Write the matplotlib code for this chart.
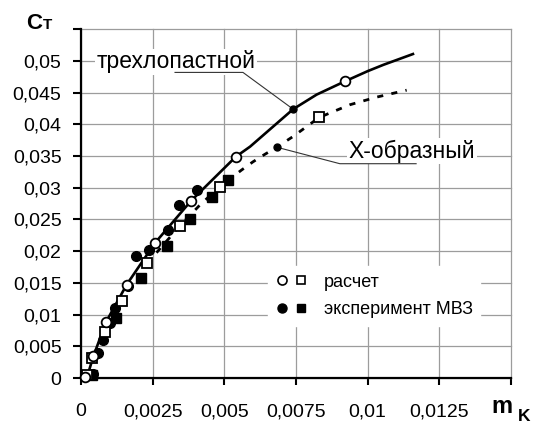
import matplotlib
matplotlib.use('Agg')
import matplotlib.pyplot as plt
from matplotlib.lines import Line2D
from matplotlib.legend_handler import HandlerTuple

plt.rcParams['font.family'] = ['Liberation Sans', 'DejaVu Sans']

# Calculated points (open markers)
calc3_x = [0.00014, 0.00043, 0.00087, 0.00159, 0.00258, 0.00383, 0.0054, 0.00921]
calc3_y = [0.0002, 0.0034, 0.0088, 0.0147, 0.0213, 0.0279, 0.0349, 0.0468]
calcx_x = [0.00020, 0.00037, 0.00084, 0.00142, 0.00229, 0.00345, 0.00485, 0.00831]
calcx_y = [0.0005, 0.0031, 0.0073, 0.0122, 0.0181, 0.0240, 0.0302, 0.0411]

# Experiment MVZ (filled markers)
exp3_x = [0.00041, 0.0006, 0.00078, 0.00101, 0.00119, 0.00165, 0.00192, 0.00238, 0.00305, 0.00343, 0.00403]
exp3_y = [0.0007, 0.0039, 0.0060, 0.0087, 0.0110, 0.0145, 0.0192, 0.0202, 0.0233, 0.0273, 0.0297]
expx_x = [0.00037, 0.00122, 0.00208, 0.00299, 0.0038, 0.00456, 0.00514]
expx_y = [0.0005, 0.0095, 0.0157, 0.0208, 0.0251, 0.0286, 0.0313]

# Curves
curve3_x = [0.0002, 0.00043, 0.00087, 0.00159, 0.00258, 0.00383, 0.0054, 0.0059, 0.0074, 0.00822, 0.00921,
            0.01, 0.01055, 0.01158]
curve3_y = [0.0, 0.0034, 0.0088, 0.0147, 0.0213, 0.0279, 0.0349, 0.0365, 0.0424, 0.0447, 0.0468,
            0.0484, 0.0494, 0.0511]
curvex_x = [0.00229, 0.00266, 0.00345, 0.00415, 0.00485, 0.0056, 0.006, 0.00642, 0.00683, 0.0074, 0.00831,
            0.00938, 0.01031, 0.01136]
curvex_y = [0.0181, 0.0199, 0.0240, 0.0273, 0.0302, 0.0328, 0.0341, 0.0353, 0.0364, 0.0381, 0.0411,
            0.0431, 0.0443, 0.0454]

# Callouts: label position, leader polyline (ends at the curve)
label3 = 'трехлопастной'
label3_pos = (0.00331, 0.0499)
leader3_x = [0.00328, 0.00565, 0.0074]
leader3_y = [0.0482, 0.0482, 0.0424]
labelx = 'X-образный'
labelx_pos = (0.01155, 0.0358)
leaderx_x = [0.01169, 0.00903, 0.00683]
leaderx_y = [0.0338, 0.0338, 0.0364]

xticks = [0, 0.0025, 0.005, 0.0075, 0.01, 0.0125, 0.015]
xtick_labels = ['0', '0,0025', '0,005', '0,0075', '0,01', '0,0125', '']
yticks = [0, 0.005, 0.01, 0.015, 0.02, 0.025, 0.03, 0.035, 0.04, 0.045, 0.05, 0.055]
ytick_labels = ['0', '0,005', '0,01', '0,015', '0,02', '0,025', '0,03', '0,035', '0,04', '0,045', '0,05', '']

fig = plt.figure(figsize=(5.36, 4.23), dpi=100)
ax = fig.add_axes([81 / 536, 1 - 378 / 423, 430 / 536, 348.7 / 423])
ax.set_xlim(0, 0.015)
ax.set_ylim(0, 0.055)

ax.set_axisbelow(True)
ax.grid(True, color='#9c9c9c', lw=0.9)
ax.set_xticks(xticks)
ax.set_xticklabels(xtick_labels)
ax.set_yticks(yticks)
ax.set_yticklabels(ytick_labels)
for gl in ax.get_xgridlines() + ax.get_ygridlines():
    gl.set_clip_on(False)

for s in ['top', 'right']:
    ax.spines[s].set_visible(False)
for s in ['left', 'bottom']:
    ax.spines[s].set_linewidth(1.6)
ax.tick_params(axis='y', direction='out', length=6, width=1.5, pad=8, labelsize=14)
ax.tick_params(axis='x', direction='out', length=5, width=1.5, pad=13, labelsize=14)

# curves
ax.plot(curve3_x, curve3_y, color='black', lw=1.9, zorder=3, solid_joinstyle='round')
ax.plot(curvex_x, curvex_y, color='black', lw=2.0, dashes=(2.2, 3.0), zorder=3)

# markers
ms = 7
ax.plot(expx_x, expx_y, 's', color='black', ms=ms, zorder=4, clip_on=False)
ax.plot(exp3_x, exp3_y, 'o', color='black', ms=ms, zorder=4, clip_on=False)
ax.plot(calcx_x, calcx_y, 's', mfc='white', mec='black', mew=1.3, ms=ms + 0.5, zorder=5, clip_on=False)
ax.plot(calc3_x, calc3_y, 'o', mfc='white', mec='black', mew=1.3, ms=ms, zorder=5, clip_on=False)

# callouts
ax.plot(leader3_x, leader3_y, color='#333333', lw=0.8, zorder=6)
ax.plot(leader3_x[-1], leader3_y[-1], 'o', color='black', ms=5, zorder=6)
ax.plot(leaderx_x, leaderx_y, color='#333333', lw=0.8, zorder=6)
ax.plot(leaderx_x[-1], leaderx_y[-1], 'o', color='black', ms=5, zorder=6)
ax.text(*label3_pos, label3, fontsize=16.5, ha='center', va='center', zorder=2,
        bbox=dict(facecolor='white', edgecolor='none', pad=1))
ax.text(*labelx_pos, labelx, fontsize=16.5, ha='center', va='center', zorder=2,
        bbox=dict(facecolor='white', edgecolor='none', pad=1))

# legend
h_calc = (Line2D([], [], ls='none', marker='o', mfc='white', mec='black', mew=1.2, ms=6.5),
          Line2D([], [], ls='none', marker='s', mfc='white', mec='black', mew=1.2, ms=6))
h_exp = (Line2D([], [], ls='none', marker='o', color='black', ms=6.5),
         Line2D([], [], ls='none', marker='s', color='black', ms=6))
leg = ax.legend([h_calc, h_exp], ['расчет', 'эксперимент МВЗ'],
                handler_map={tuple: HandlerTuple(ndivide=None, pad=0.4)},
                loc='upper left', bbox_to_anchor=(0.435, 0.32), borderaxespad=0,
                fontsize=13, numpoints=1, handlelength=1.8, handletextpad=0.9,
                labelspacing=0.6, borderpad=0.4, frameon=True, fancybox=False,
                facecolor='white', edgecolor='white', framealpha=1)
leg.set_zorder(2)

# axis titles
fig.text(26 / 536, 1 - 29 / 423, 'C', fontsize=16, fontweight='bold', va='baseline')
fig.text(43 / 536, 1 - 29 / 423, 'T', fontsize=11, fontweight='bold', va='baseline')
fig.text(491 / 536, 1 - 413 / 423, 'm', fontsize=17, fontweight='bold', va='baseline')
fig.text(518 / 536, 1 - 421 / 423, 'K', fontsize=12.5, fontweight='bold', va='baseline')

fig.savefig('out.png', dpi=100)
